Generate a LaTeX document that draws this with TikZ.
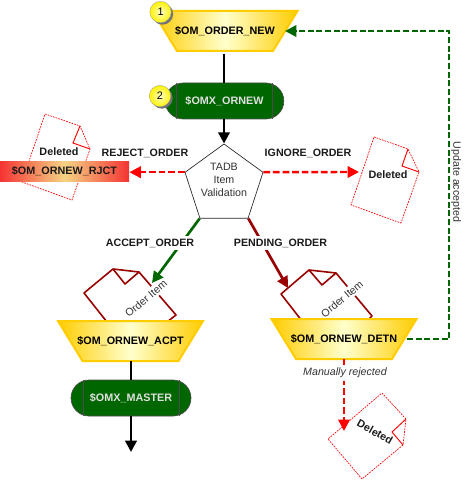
\documentclass[tikz,border=0pt]{standalone}
\usepackage{fontspec}
\setmainfont{Liberation Sans}
\usetikzlibrary{arrows.meta,shapes.geometric,shapes.misc,calc,shadings}
\definecolor{gold}{HTML}{FFCC00}
\definecolor{paleyellow}{HTML}{FFFFCC}
\definecolor{dkgreen}{HTML}{006600}
\definecolor{dkred}{HTML}{990000}
\definecolor{txt}{HTML}{1A1A1A}
\definecolor{tan}{HTML}{F5D384}
\definecolor{rjred}{HTML}{F53333}
\tikzset{
  tableshape/.style={draw=gold,line width=1.5pt,line join=miter,left color=gold,right color=gold,middle color=paleyellow},
  tablebox/.style={minimum height=30pt,minimum width=40pt,inner sep=0pt,text=black,font=\fontsize{8.1}{10}\selectfont\bfseries},
  pill/.style={rounded rectangle,fill=dkgreen,draw=black!70,line width=.5pt,minimum height=27pt,inner sep=0pt,
    text=white!88!black,font=\fontsize{8.1}{10}\selectfont\bfseries},
  pillbar/.style={draw=black!70,line width=.6pt},
  badge/.style={circle,minimum size=16pt,inner sep=0pt,draw=black!35,line width=.3pt,
    shading=radial,inner color=paleyellow,outer color=yellow!90!orange,
    font=\fontsize{8.1}{10}\selectfont},
  badgeshadow/.style={circle,minimum size=16pt,inner sep=0pt,fill=black!55},
  pent/.style={regular polygon,regular polygon sides=5,minimum size=61.5pt,inner sep=0pt,draw=black!85,line width=.5pt,fill=white},
  lab/.style={font=\fontsize{8}{10}\selectfont\bfseries,text=txt,inner sep=1pt},
  plain/.style={font=\fontsize{8}{9.75}\selectfont,text=black!80,inner sep=1pt,align=center},
  flow/.style={line width=2.2pt,draw=black},
  tip/.style={-{Triangle[length=8.5pt,width=8.5pt]}},
  reddash/.style={draw=red,line width=1.8pt,dash pattern=on 5pt off 2.2pt},
  greendash/.style={draw=dkgreen,line width=1.8pt,dash pattern=on 4.5pt off 2pt},
  delpage/.style={draw=red,line width=.5pt,dash pattern=on 1.3pt off .8pt},
  delfold/.style={draw=red,line width=.7pt},
  itempage/.style={draw=dkred,line width=1.2pt,line join=round},
}
\newcommand{\tabbox}[4]{%
  \draw[tableshape] ([shift={(-72.5,-20)}]#2,#3) -- ([shift={(72.5,-20)}]#2,#3)
    -- ([shift={(48,20)}]#2,#3) -- ([shift={(-48,20)}]#2,#3) -- cycle;
  \node[tablebox] (#1) at (#2,#3) {#4};}
\begin{document}
\begin{tikzpicture}[x=.75pt,y=-.75pt]
\useasboundingbox (0,0) rectangle (465,481);
% deleted page behind the reject box
\coordinate (da) at (45,114); \coordinate (db) at (80,126); \coordinate (dc) at (90,149);
\coordinate (dd) at (72,200); \coordinate (de) at (22,182); \coordinate (df) at (73,143);
\draw[delpage] (da)--(db)--(dc)--(dd)--(de)--cycle;
\draw[delfold] (db)--(df)--(dc);
\node[lab,font=\fontsize{8.1}{10}\selectfont\bfseries] (dlabA) at (59,152) {Deleted};
% order item pages (behind the tables)
\coordinate (pa) at (107,322); \coordinate (pb) at (84,293); \coordinate (pc) at (113,269);
\coordinate (pd) at (139,272); \coordinate (pe) at (176,315); \coordinate (pf) at (167,322); \coordinate (pg) at (125,284);
\draw[itempage] (pa)--(pb)--(pc)--(pd)--(pe)--(pf);
\draw[itempage] (pc)--(pg)--(pd);
\coordinate (qa) at (302,321); \coordinate (qb) at (281,294); \coordinate (qc) at (309,270);
\coordinate (qd) at (336,273); \coordinate (qe) at (372,316); \coordinate (qf) at (367,321); \coordinate (qg) at (322,285);
\draw[itempage] (qa)--(qb)--(qc)--(qd)--(qe)--(qf);
\draw[itempage] (qc)--(qg)--(qd);
\node[plain,fill=white,rotate=40,inner sep=1.5pt] (itemA) at (146,298.5) {Order Item};
\node[plain,fill=white,rotate=40,inner sep=1.5pt] (itemB) at (342,299) {Order Item};
% main nodes
\tabbox{new}{225}{31}{\$OM\_ORDER\_NEW}
\node[pill,minimum width=89pt] (ornew) at (224.5,101) {\$OMX\_ORNEW};
\draw[pillbar] (176,83)--(176,119) (272,83)--(272,119);
\node[pent] (val) at (224,185) {};
\node[plain] (valtext) at (224,180) {TADB\\Item\\Validation};
\node[inner sep=0pt,minimum width=97pt,minimum height=15pt,left color=rjred,right color=rjred,middle color=tan,
  font=\fontsize{8.1}{10}\selectfont\bfseries,text=txt] (rjct) at (64.5,171) {\$OM\_ORNEW\_RJCT};
\tabbox{acpt}{130.5}{341}{\$OM\_ORNEW\_ACPT}
\tabbox{detn}{344}{339}{\$OM\_ORNEW\_DETN}
\node[pill,minimum width=90pt] (master) at (131,398) {\$OMX\_MASTER};
\draw[pillbar] (83,380)--(83,416) (179,380)--(179,416);
% badges
\node[badgeshadow] (s1) at (162.5,14) {}; \node[badge] (b1) at (160.5,12) {1};
\node[badgeshadow] (s2) at (162,98) {}; \node[badge] (b2) at (160,96) {2};
% connectors
\coordinate (endm) at (131,452);
\draw[flow] ([yshift=-2pt]new.south-|224,0)--(ornew.north-|224,0);
\draw[flow,tip] (ornew.south-|224,0)--(val.corner 1);
\draw[flow] (acpt.south-|131,0)--(master.north);
\draw[flow,tip] (master.south)--(endm);
\coordinate (ign) at (359,172);
\draw[reddash,tip,red] (val.corner 2)--(rjct.east|-val.corner 2);
\draw[reddash,tip,red] (val.corner 5)--(ign);
\coordinate (gtip) at (152,283); \coordinate (rtip) at (288,288);
\draw[line width=2pt,draw=dkgreen,tip] (val.corner 3)--(gtip);
\draw[line width=2pt,draw=dkred,tip] (val.corner 4)--(rtip);
\coordinate (ga) at (449,339); \coordinate (gb) at (449,31); \coordinate (gc) at (285,31);
\coordinate (gs) at (407,339);
\draw[greendash,tip] (gs)--(ga)--(gb)--(gc);
\coordinate (rd) at (344,431);
\draw[reddash,tip,red] (detn.south)--(rd);
% labels
\node[lab] (lr) at (145,153) {REJECT\_ORDER};
\node[lab] (li) at (308,153) {IGNORE\_ORDER};
\node[lab,fill=white,inner sep=2pt] (la) at (150,243) {ACCEPT\_ORDER};
\node[lab,fill=white,inner sep=2pt] (lp) at (280.5,243) {PENDING\_ORDER};
\node[plain,fill=white,font=\fontsize{8}{10}\selectfont\itshape,inner sep=2pt] (mr) at (345,373) {Manually rejected};
\node[plain,rotate=-90] (ua) at (456,182) {Update accepted};
% other deleted pages
\coordinate (ea) at (374,137); \coordinate (eb) at (408,149); \coordinate (ec) at (419,172);
\coordinate (ed) at (401,223); \coordinate (ee) at (351,205); \coordinate (ef) at (402,166);
\draw[delpage] (ea)--(eb)--(ec)--(ed)--(ee)--cycle;
\draw[delfold] (eb)--(ef)--(ec);
\node[lab,font=\fontsize{8.1}{10}\selectfont\bfseries] (dlabB) at (388,175) {Deleted};
\coordinate (fa) at (382,393); \coordinate (fb) at (406,419); \coordinate (fc) at (403,445);
\coordinate (fd) at (362,479); \coordinate (fe) at (328,439); \coordinate (ff) at (392,432);
\draw[delpage] (fa)--(fb)--(fc)--(fd)--(fe)--cycle;
\draw[delfold] (fb)--(ff)--(fc);
\node[lab,font=\fontsize{8.1}{10}\selectfont\bfseries,rotate=-29] (dlabC) at (375,432) {Deleted};
\end{tikzpicture}
\end{document}
